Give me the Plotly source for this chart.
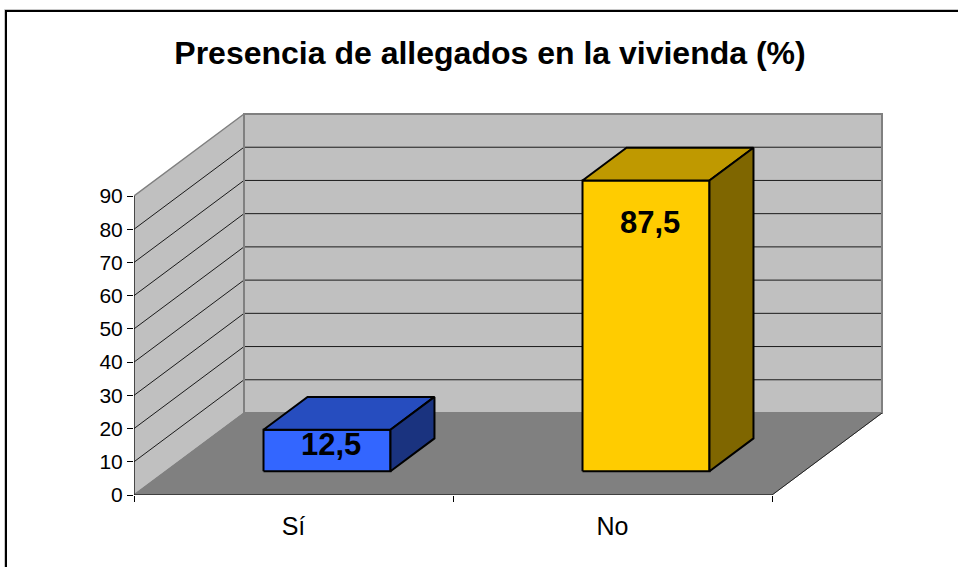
import plotly.graph_objects as go

categories = ["Sí", "No"]
values = [12.5, 87.5]
value_labels = ["12,5", "87,5"]
y_ticks = [0, 10, 20, 30, 40, 50, 60, 70, 80, 90]
title_text = "Presencia de allegados en la vivienda (%)"

W, H = 958, 567
# plot window in pixels
L, R, T, B = 134, 883, 113, 495
Y_PX = 299 / 90          # pixels per value unit
X_PX = 319               # pixels per category
DX_PX, DY_PX = 110, 82   # oblique offset of the full depth
dx = DX_PX / X_PX
dy = DY_PX / Y_PX
n = len(categories)
ymax = y_ticks[-1]
bar_w = 0.398
bar_c = 0.505            # bar centre inside its category
d0, d1 = 0.29, 0.69      # bar extent along depth

def pr(x, y, d):
    """Oblique projection of (category x, value y, depth d)."""
    return x + d * dx, y + d * dy

def poly(pts, fill, line, width, name=""):
    xs = [p[0] for p in pts] + [pts[0][0]]
    ys = [p[1] for p in pts] + [pts[0][1]]
    return go.Scatter(x=xs, y=ys, mode="lines", fill="toself", fillcolor=fill,
                      line=dict(color=line, width=width), hoverinfo="skip",
                      showlegend=False, name=name)

def seg(pts, color, width):
    return go.Scatter(x=[p[0] for p in pts], y=[p[1] for p in pts], mode="lines",
                      line=dict(color=color, width=width), hoverinfo="skip", showlegend=False)

fig = go.Figure()
WALL = "#c0c0c0"; EDGE = "#808080"; FLOOR = "#808080"
# back wall
fig.add_trace(poly([pr(0, 0, 1), pr(n, 0, 1), pr(n, ymax, 1), pr(0, ymax, 1)], WALL, EDGE, 2))
# side wall
fig.add_trace(poly([pr(0, 0, 0), pr(0, 0, 1), pr(0, ymax, 1), pr(0, ymax, 0)], WALL, EDGE, 1.5))
# gridlines
for t in y_ticks[1:-1]:
    fig.add_trace(seg([pr(0, t, 0), pr(0, t, 1), pr(n, t, 1)], "#1a1a1a", 1))
# floor
fig.add_trace(poly([pr(0, 0, 0), pr(n, 0, 0), pr(n, 0, 1), pr(0, 0, 1)], FLOOR, EDGE, 1))
fig.add_trace(seg([pr(n, 0, 0), pr(n, 0, 1)], "#222222", 1))
fig.add_trace(seg([pr(n, 0, 1), pr(n, ymax, 1)], EDGE, 2))
fig.add_trace(seg([pr(0, 0, 1), pr(0, ymax, 1)], EDGE, 2))
# axes
fig.add_trace(seg([(0, 0), (0, ymax)], "#000000", 1))
fig.add_trace(seg([(0, 0), (n, 0)], "#000000", 1))

colours = [("#3366ff", "#264dbf", "#1a337f"), ("#ffcc00", "#bf9900", "#7f6600")]
for i, v in enumerate(values):
    x0 = i + bar_c - bar_w / 2
    x1 = i + bar_c + bar_w / 2
    front, top, side = colours[i]
    fig.add_trace(poly([pr(x0, 0, d0), pr(x1, 0, d0), pr(x1, v, d0), pr(x0, v, d0)], front, "#000000", 2))
    fig.add_trace(poly([pr(x0, v, d0), pr(x1, v, d0), pr(x1, v, d1), pr(x0, v, d1)], top, "#000000", 2))
    fig.add_trace(poly([pr(x1, 0, d0), pr(x1, 0, d1), pr(x1, v, d1), pr(x1, v, d0)], side, "#000000", 2))
    lx, ly = pr(i + bar_c, v, d0)
    fig.add_annotation(x=lx, y=ly - 12.5 if v > 50 else ly - 4.6, xshift=4,
                       text=f"<b>{value_labels[i]}</b>", showarrow=False,
                       font=dict(family="Liberation Sans", size=31, color="#000000"))

def frame_line(x0, y0, x1, y1, color, width):
    return dict(type="line", xref="paper", yref="paper", layer="above",
                x0=(x0 - L) / (R - L), x1=(x1 - L) / (R - L),
                y0=(B - y0) / (B - T), y1=(B - y1) / (B - T),
                line=dict(color=color, width=width))

fig.update_layout(
    width=W, height=H, autosize=False,
    margin=dict(l=L, r=W - R, t=T, b=H - B),
    paper_bgcolor="#ffffff", plot_bgcolor="#ffffff",
    showlegend=False,
    font=dict(family="Liberation Sans", color="#000000"),
    title=dict(text=f"<b>{title_text}</b>", x=490 / W, xanchor="center", y=1 - 53 / H, yanchor="middle",
               font=dict(family="Liberation Sans", size=32, color="#000000")),
    xaxis=dict(range=[0, (R - L) / X_PX], showgrid=False, zeroline=False, showline=False,
               tickmode="array", tickvals=[i + 0.5 for i in range(n)], ticktext=categories,
               ticks="outside", tickcolor="rgba(0,0,0,0)", ticklen=9, tickfont=dict(size=25),
               minor=dict(tickmode="array", tickvals=list(range(n + 1)), ticks="outside", ticklen=6,
                          tickcolor="#000000", showgrid=False)),
    yaxis=dict(range=[0, (B - T) / Y_PX], showgrid=False, zeroline=False, showline=False,
               tickmode="array", tickvals=y_ticks, ticktext=[str(t) for t in y_ticks],
               ticks="outside", ticklen=6, tickcolor="#000000", tickfont=dict(size=21)),
    shapes=[
        frame_line(4.5, 9.5, 958, 9.5, "#c8c8c8", 1),
        frame_line(4.5, 9.5, 4.5, 567, "#c8c8c8", 1),
        frame_line(6, 11, 958, 11, "#000000", 2),
        frame_line(6, 10, 6, 567, "#000000", 2),
    ],
)
fig.write_html("out.html", config={"displayModeBar": False},
               post_script="document.body.style.margin='0';document.documentElement.style.overflow='hidden';")
